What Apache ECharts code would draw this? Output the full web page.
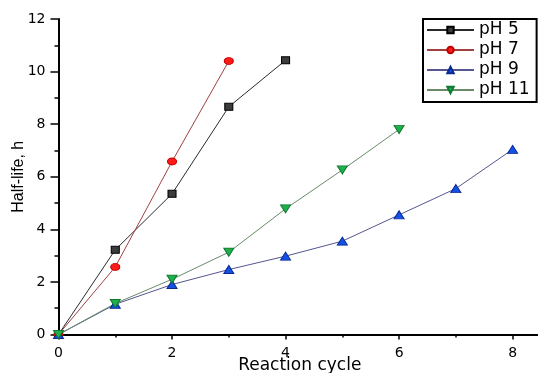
<!DOCTYPE html>
<html>
<head>
<meta charset="utf-8">
<script src="https://cdn.jsdelivr.net/npm/echarts@6/dist/echarts.min.js"></script>
<style>html,body{margin:0;padding:0;background:#fff;}#c{width:538px;height:373px;}</style>
</head>
<body>
<div id="c"></div>
<script>
const cycles = [0, 1, 2, 3, 4, 5, 6, 7, 8];
const ph5 = [0, 3.22, 5.35, 8.66, 10.43];
const ph7 = [0, 2.57, 6.58, 10.4];
const ph9 = [0, 1.15, 1.9, 2.47, 2.98, 3.55, 4.55, 5.55, 7.04];
const ph11 = [0, 1.18, 2.1, 3.13, 4.78, 6.26, 7.8];
const seriesNames = ['pH 5', 'pH 7', 'pH 9', 'pH 11'];
const xTitle = 'Reaction cycle';
const yTitle = 'Half-life, h';

function pts(vals) { return vals.map((v, i) => [cycles[i], v]); }

const chart = echarts.init(document.getElementById('c'), null, {renderer: 'canvas'});
const tickFont = {fontFamily: 'DejaVu Sans', fontSize: 14, color: '#000'};
chart.setOption({
  animation: false,
  backgroundColor: '#fff',
  grid: {left: 58.5, right: -3, top: 19, bottom: 38.5, containLabel: false, outerBoundsMode: 'none'},
  legend: {
    orient: 'vertical',
    left: 423, top: 19,
    data: seriesNames,
    itemWidth: 47, itemHeight: 8, itemGap: 0,
    padding: [1, 7, 2, 3],
    borderColor: '#000', borderWidth: 2,
    textStyle: {fontFamily: 'DejaVu Sans', fontSize: 17, color: '#000', lineHeight: 20}
  },
  xAxis: [{
    type: 'value', min: 0, max: 8.5, interval: 2,
    name: xTitle, nameLocation: 'middle', nameGap: 23, nameMoveOverlap: false,
    nameTextStyle: {fontFamily: 'DejaVu Sans', fontSize: 17, color: '#000'},
    axisLine: {show: true, onZero: false, lineStyle: {color: '#000', width: 2}},
    axisTick: {show: true, length: 5, lineStyle: {color: '#000', width: 1.5}},
    axisLabel: {show: true, margin: 12, showMaxLabel: false, ...tickFont},
    splitLine: {show: false}
  }, {
    type: 'value', min: 0, max: 8.5, interval: 1, position: 'bottom',
    axisLine: {show: false},
    axisTick: {show: true, length: 3, lineStyle: {color: '#000', width: 1.5}},
    axisLabel: {show: false},
    splitLine: {show: false}
  }],
  yAxis: {
    type: 'value', min: 0, max: 12, interval: 2,
    name: yTitle, nameLocation: 'middle', nameGap: 32, nameMoveOverlap: false,
    nameTextStyle: {fontFamily: 'Liberation Sans', fontSize: 16, color: '#000'},
    axisLine: {show: true, onZero: false, lineStyle: {color: '#000', width: 2}},
    axisTick: {show: true, length: 8, lineStyle: {color: '#000', width: 1.5}},
    minorTick: {show: true, splitNumber: 2, length: 4, lineStyle: {color: '#000', width: 1.5}},
    axisLabel: {show: true, margin: 13, ...tickFont},
    splitLine: {show: false}
  },
  series: [
    {name: 'pH 5', type: 'line', data: pts(ph5), symbol: 'rect', symbolSize: [8, 7],
     itemStyle: {color: '#3c3c3c', borderColor: '#000', borderWidth: 1},
     lineStyle: {color: '#2a2a2a', width: 1}},
    {name: 'pH 7', type: 'line', data: pts(ph7), symbol: 'circle', symbolSize: [9, 7],
     itemStyle: {color: '#ff1a1a', borderColor: '#c00000', borderWidth: 1},
     lineStyle: {color: '#a04040', width: 1}},
    {name: 'pH 9', type: 'line', data: pts(ph9), symbol: 'triangle', symbolSize: [10, 8],
     itemStyle: {color: '#1450e6', borderColor: '#0a2a90', borderWidth: 1},
     lineStyle: {color: '#555590', width: 1}},
    {name: 'pH 11', type: 'line', data: pts(ph11), symbol: 'triangle', symbolRotate: 180, symbolSize: [10, 8],
     itemStyle: {color: '#1fb04c', borderColor: '#0c7a30', borderWidth: 1},
     lineStyle: {color: '#6a8a6a', width: 1}}
  ]
});
</script>
</body>
</html>
